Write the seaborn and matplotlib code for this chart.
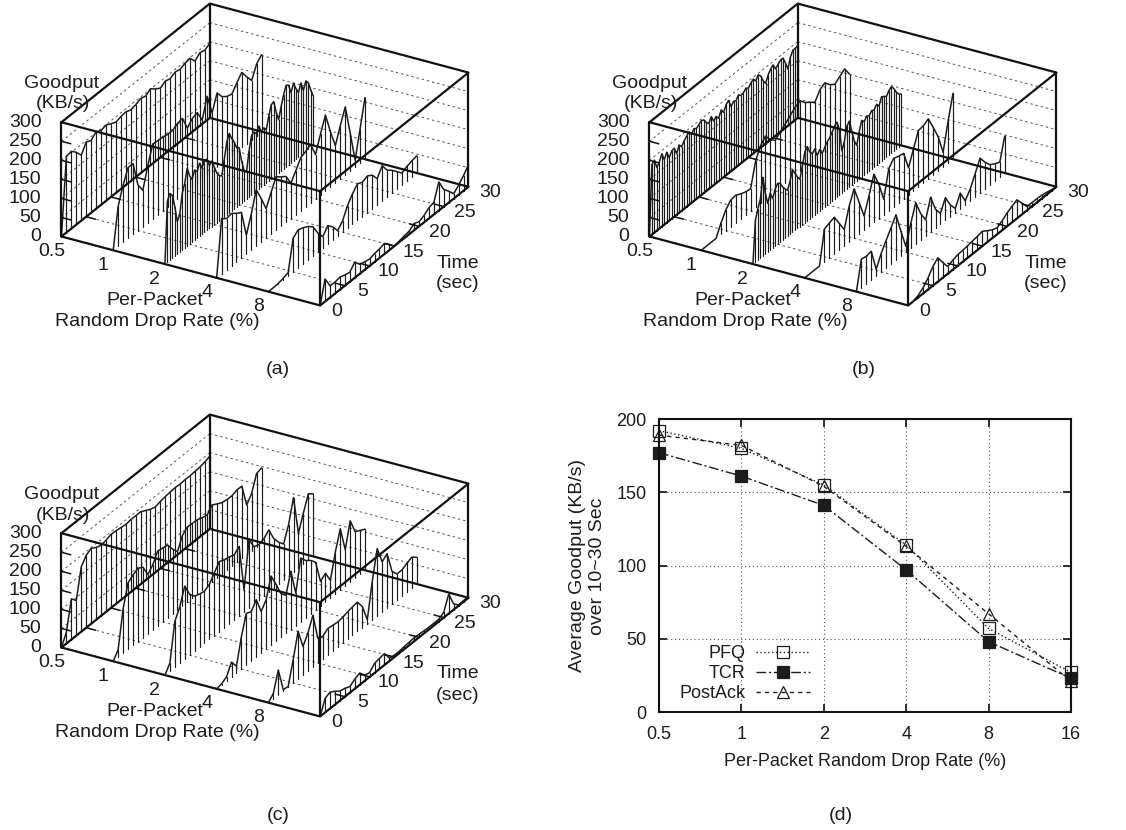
import numpy as np
import matplotlib
matplotlib.use("Agg")
import matplotlib.pyplot as plt
from mpl_toolkits.mplot3d import proj3d
import seaborn as sns

# Drop rates and axis ticks
rates = [0.5, 1, 2, 4, 8, 16]
rate_labels = ["0.5", "1", "2", "4", "8"]
time_ticks = [0, 5, 10, 15, 20, 25, 30]
goodput_ticks = [0, 50, 100, 150, 200, 250, 300]

# Panel (a), goodput over time for each drop rate
a_05 = [0, 200, 203, 190, 172, 196, 190, 202, 195, 199, 192, 186, 190, 192, 187, 190, 196, 192, 201, 190, 182, 190, 186, 193, 190, 195, 198, 180, 192, 188, 196]
a_1 = [0, 105, 150, 186, 186, 120, 95, 150, 196, 194, 193, 190, 190, 198, 201, 165, 180, 185, 155, 207, 153, 195, 175, 165, 161, 180, 197, 175, 155, 188, 202]
a_2 = [0, 160, 175, 165, 130, 85, 100, 150, 170, 205, 180, 165, 185, 175, 192, 175, 190, 187, 165, 172, 150, 130, 118, 112, 150, 190, 208, 190, 175, 155, 150,
       110, 80, 70, 120, 155, 160, 150, 165, 145, 150, 140, 170, 195, 198, 165, 140, 170, 195, 215, 210, 185, 205, 185, 170, 190, 165, 185, 175, 150, 130]
a_4 = [0, 145, 135, 138, 128, 120, 50, 95, 148, 115, 78, 110, 141, 130, 121, 93, 115, 139, 145, 153, 116, 160, 199, 145, 98, 140, 179, 100, 18, 90, 162]
a_8 = [0, 0, 1, 4, 9, 88, 100, 95, 88, 77, 50, 30, 49, 35, 15, 30, 60, 80, 96, 90, 96, 88, 68, 92, 70, 59, 45, 31, 38, 42, 45]
a_16 = [0, 59, 31, 30, 33, 28, 25, 41, 25, 21, 18, 22, 24, 28, 15, 0, 3, 6, 8, 18, 12, 18, 28, 32, 75, 45, 30, 13, 25, 40, 58]

# Panel (b)
b_05 = [0, 184, 190, 165, 175, 191, 170, 185, 165, 178, 180, 160, 178, 168, 178, 185, 192, 180, 190, 185, 190, 195, 192, 180, 172, 185, 168, 175, 165, 182, 170,
        185, 191, 170, 178, 175, 185, 178, 180, 187, 182, 190, 195, 185, 196, 188, 170, 158, 175, 185, 191, 175, 182, 188, 188, 170, 149, 175, 188, 188, 190]
b_1 = [0, 0, 0, 0, 30, 55, 70, 72, 65, 60, 58, 120, 150, 165, 145, 133, 145, 155, 167, 178, 185, 170, 160, 150, 172, 180, 165, 155, 165, 175, 151]
b_2 = [0, 110, 135, 155, 207, 160, 128, 150, 130, 150, 160, 155, 140, 130, 121, 140, 165, 150, 135, 124, 155, 185, 194, 175, 165, 172, 150, 160, 145, 155, 165,
       170, 180, 190, 196, 170, 110, 130, 165, 173, 140, 110, 94, 125, 149, 140, 150, 145, 154, 150, 160, 150, 169, 165, 160, 170, 175, 165, 150, 140, 135]
b_4 = [0, 0, 0, 0, 87, 92, 97, 70, 44, 95, 130, 85, 38, 80, 127, 90, 40, 110, 127, 122, 119, 71, 110, 148, 150, 158, 125, 90, 39, 110, 173]
b_8 = [0, 75, 72, 75, 17, 48, 72, 95, 119, 65, 15, 65, 109, 70, 43, 92, 50, 29, 60, 30, 11, 41, 10, 30, 60, 91, 70, 53, 45, 39, 97]
b_16 = [0, 0, 5, 15, 30, 50, 63, 40, 19, 25, 29, 30, 32, 34, 36, 39, 30, 22, 17, 25, 35, 42, 49, 30, 11, 10, 10, 9, 6, 3, 0]

# Panel (c)
c_05 = [0, 30, 107, 92, 170, 190, 198, 190, 185, 188, 193, 192, 190, 188, 190, 190, 190, 183, 176, 172, 176, 178, 180, 181, 180, 181, 181, 182, 183, 186, 191]
c_1 = [0, 20, 116, 175, 185, 192, 185, 155, 170, 196, 193, 191, 170, 153, 185, 197, 196, 195, 190, 187, 203, 195, 188, 186, 185, 190, 190, 130, 150, 192, 196]
c_2 = [0, 21, 120, 148, 192, 160, 145, 140, 137, 145, 165, 184, 178, 175, 170, 182, 58, 179, 150, 145, 150, 163, 130, 110, 95, 135, 196, 92, 135, 175, 164]
c_4 = [0, 3, 11, 39, 18, 85, 136, 130, 151, 110, 130, 182, 150, 115, 100, 153, 85, 167, 150, 140, 125, 64, 75, 46, 110, 161, 95, 161, 122, 115, 108]
c_8 = [0, 14, 65, 3, 1, 60, 125, 75, 100, 136, 65, 60, 70, 68, 66, 68, 72, 75, 77, 55, 10, 100, 176, 131, 142, 85, 68, 68, 75, 81, 70]
c_16 = [0, 37, 43, 35, 25, 22, 16, 25, 31, 15, 11, 25, 28, 30, 8, 5, 5, 7, 8, 9, 8, 7, 6, 6, 6, 14, 51, 15, 2, 3, 4]

# Panel (d), average goodput
pfq_avg = [192, 180, 155, 114, 57, 27]
tcr_avg = [177, 161, 141, 97, 48, 23]
postack_avg = [189, 182, 154, 113, 67, 21]

W, H = 1126, 830
INK = "#1c1c1c"
FS = 14
FS_D = 13

sns.set_theme(style="ticks")
plt.rcParams["font.family"] = ["Liberation Sans", "DejaVu Sans"]

fig = plt.figure(figsize=(W / 100, H / 100), dpi=100)


def put(x, y, s, size=FS, **kw):
    fig.text(x / W, 1 - y / H, s, ha="center", va="center", fontsize=size, color=INK, **kw)


def panel3d(dx, dy, series):
    # same view in all three panels, only shifted
    side = 427.4
    left = 45.5 + dx
    bottom = 456 - dy
    ax = fig.add_axes([left / W, bottom / H, side / W, side / H], projection="3d",
                      proj_type="ortho", computed_zorder=False)
    ax.view_init(elev=27.5, azim=-60)
    ax.set_box_aspect((298, 296, 128.5))
    ax.set_xlim(0, 5)
    ax.set_ylim(0, 30)
    ax.set_zlim(0, 300)
    ax.set_axis_off()

    # dashed grid on the walls and the floor
    grid = dict(color="#555555", lw=0.7, ls=(0, (2.5, 3)), zorder=1)
    for z in goodput_ticks[1:-1]:
        ax.plot([0, 0], [0, 30], [z, z], **grid)
        ax.plot([0, 5], [30, 30], [z, z], **grid)
    for t in time_ticks[1:-1]:
        ax.plot([0, 5], [t, t], [0, 0], **grid)

    # one impulse curve per drop rate
    for i, values in enumerate(series):
        times = np.linspace(0, 30, len(values))
        for t, v in zip(times, values):
            ax.plot([i, i], [t, t], [0, v], color=INK, lw=0.85, zorder=2)
        ax.plot(np.full(len(values), i), times, values, color=INK, lw=1.1, zorder=3)

    # box edges
    edge = dict(color="#111111", lw=1.6, zorder=4)
    for z in [0, 300]:
        ax.plot([0, 5, 5, 0, 0], [0, 0, 30, 30, 0], [z] * 5, **edge)
    for x, y in [(0, 0), (5, 0), (5, 30), (0, 30)]:
        ax.plot([x, x], [y, y], [0, 300], **edge)

    # short tick marks
    tick = dict(color="#111111", lw=1.1, zorder=4)
    for z in goodput_ticks[1:-1]:
        ax.plot([0, 0.18], [0, 0], [z, z], **tick)
    for t in time_ticks[1:-1]:
        ax.plot([0, 0.18], [t, t], [0, 0], **tick)
        ax.plot([4.82, 5], [t, t], [0, 0], **tick)

    # tick labels, nudged off the box in pixels
    M = ax.get_proj()

    def label(x, y, z, s, px, py, ha):
        vx, vy, _ = proj3d.proj_transform(x, y, z, M)
        ax.annotate(s, (vx, vy), xytext=(px, py), textcoords="offset pixels", ha=ha, va="center",
                    fontsize=FS, color=INK, annotation_clip=False)

    for z in goodput_ticks:
        label(0, 0, z, str(z), -20, 0, "right")
    for i, lab in enumerate(rate_labels):
        label(i, 0, 0, lab, -10, -15, "center")
    for t in time_ticks:
        label(5, t, 0, str(t), 17 + t * 0.17, -6, "center")

    put(62 + dx, 83 + dy, "Goodput")
    put(63 + dx, 104 + dy, "(KB/s)")
    put(155 + dx, 300 + dy, "Per-Packet")
    put(157 + dx, 321 + dy, "Random Drop Rate (%)")
    put(458 + dx, 263 + dy, "Time")
    put(458 + dx, 284 + dy, "(sec)")
    return ax


panel3d(0, 0, [a_05, a_1, a_2, a_4, a_8, a_16])
panel3d(588, 0, [b_05, b_1, b_2, b_4, b_8, b_16])
panel3d(0, 411, [c_05, c_1, c_2, c_4, c_8, c_16])

# Panel (d)
ax = fig.add_axes([659 / W, 1 - 712 / H, 412 / W, 293 / H])
mark = dict(markersize=8, markeredgewidth=0.9, markeredgecolor=INK, color=INK, lw=1.0, errorbar=None)
sns.lineplot(x=rates, y=pfq_avg, ax=ax, marker="s", markerfacecolor="none", linestyle=(0, (1, 1.8)), label="PFQ", **mark)
sns.lineplot(x=rates, y=tcr_avg, ax=ax, marker="s", markerfacecolor=INK, linestyle=(0, (7, 2, 1.5, 2)), label="TCR", **mark)
sns.lineplot(x=rates, y=postack_avg, ax=ax, marker="^", markerfacecolor="none", linestyle=(0, (3, 3)), label="PostAck", **mark)

ax.set_xscale("log", base=2)
ax.set_xlim(0.5, 16)
ax.set_ylim(0, 200)
ax.set_xticks(rates, ["0.5", "1", "2", "4", "8", "16"])
ax.minorticks_off()
ax.set_yticks([0, 50, 100, 150, 200])
ax.tick_params(axis="both", direction="in", top=True, right=True, length=6, width=1.2,
               labelsize=FS_D, labelcolor=INK, color="#111111")
ax.tick_params(axis="x", pad=10)
ax.tick_params(axis="y", pad=9)
ax.grid(True, color="#555555", lw=0.8, ls=(0, (1, 2.5)))
ax.set_axisbelow(True)
for spine in ax.spines.values():
    spine.set_linewidth(1.5)
    spine.set_color("#111111")
ax.set_xlabel("")
ax.set_ylabel("")
for line in ax.get_lines():
    line.set_clip_on(False)

ax.legend(loc="lower left", bbox_to_anchor=(0.018, -0.01), frameon=False, markerfirst=False,
          fontsize=FS_D, handlelength=3.0, labelspacing=0.175, numpoints=1, borderaxespad=0.3,
          handletextpad=0.6, labelcolor=INK)

put(865, 761, "Per-Packet Random Drop Rate (%)", size=FS_D)
put(578, 566, "Average Goodput (KB/s)", size=14, rotation=90)
put(597, 566, "over 10~30 Sec", size=14, rotation=90)

# Captions
put(278, 369, "(a)")
put(864, 369, "(b)")
put(278, 815, "(c)")
put(841, 815, "(d)")

fig.savefig("out.png", dpi=100)
